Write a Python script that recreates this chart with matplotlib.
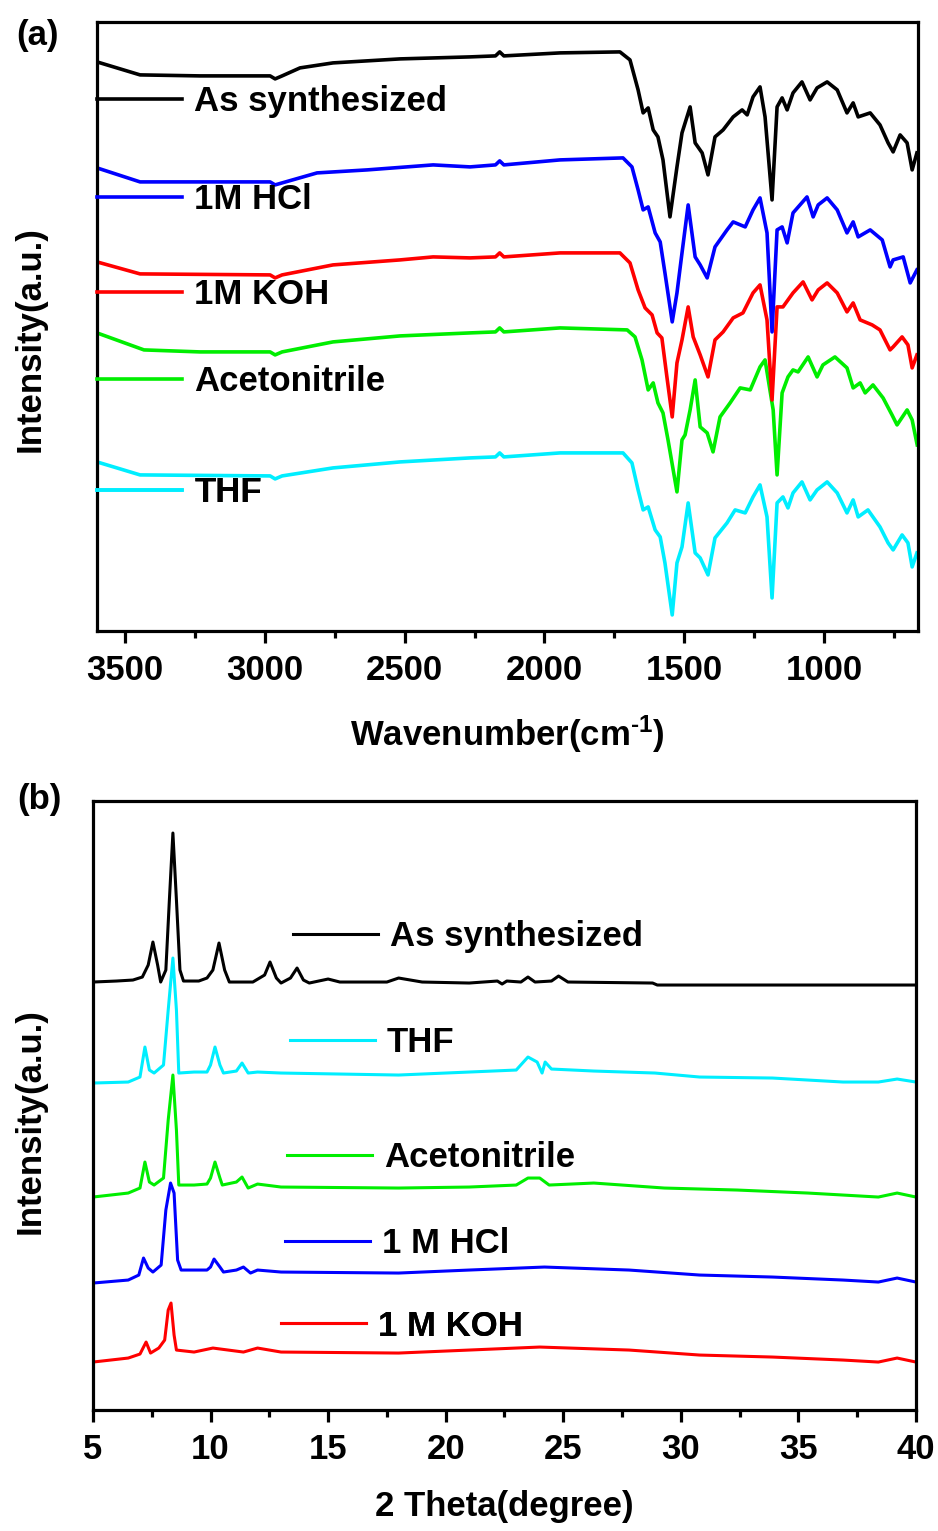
"""
FTIR (a) and PXRD (b) stacked spectra of the framework after the solvent /
acid / base soaking tests.
"""

import matplotlib
matplotlib.use('Agg')
import matplotlib.pyplot as plt
from matplotlib.ticker import MultipleLocator

plt.rcParams['font.family'] = ['Liberation Sans', 'DejaVu Sans']
plt.rcParams['font.weight'] = 'bold'
plt.rcParams['mathtext.fontset'] = 'custom'
plt.rcParams['mathtext.rm'] = 'Liberation Sans:bold'
plt.rcParams['mathtext.bf'] = 'Liberation Sans:bold'
plt.rcParams['mathtext.default'] = 'bf'

FS = 25

# ---------------- (a) FTIR, wavenumber (cm-1) vs offset intensity (a.u.)
ir_as_wn = [3600, 3446, 3232, 2981, 2963, 2938, 2874, 2756, 2516, 2266,
            2175, 2160, 2145, 1944, 1730, 1694, 1665, 1647, 1629, 1611,
            1594, 1576, 1551, 1526, 1508, 1479, 1461, 1436, 1415, 1390,
            1361, 1325, 1293, 1275, 1254, 1229, 1211, 1186, 1168, 1150,
            1132, 1111, 1079, 1050, 1025, 989, 953, 918, 896, 878,
            835, 800, 771, 753, 728, 703, 685, 668]
ir_as = [569, 556, 555, 555, 552, 555, 563, 568, 572, 574,
         575, 579, 575, 578, 579, 571, 541, 518, 523, 501,
         494, 471, 414, 464, 498, 524, 488, 478, 456, 494,
         501, 514, 521, 516, 534, 544, 514, 431, 524, 533,
         521, 538, 549, 531, 543, 549, 541, 518, 528, 514,
         518, 506, 488, 479, 496, 488, 461, 478]

ir_hcl_wn = [3600, 3446, 2981, 2963, 2938, 2813, 2634, 2398, 2266, 2175,
             2160, 2145, 1944, 1719, 1687, 1665, 1647, 1629, 1604, 1586,
             1569, 1543, 1526, 1508, 1486, 1461, 1443, 1418, 1390, 1347,
             1325, 1282, 1254, 1229, 1204, 1186, 1168, 1150, 1132, 1111,
             1061, 1039, 1021, 989, 953, 918, 896, 878, 835, 792,
             764, 753, 717, 692, 668]
ir_hcl = [463, 449, 449, 446, 448, 458, 461, 466, 464, 466,
          470, 466, 471, 473, 464, 441, 421, 424, 398, 389,
          358, 309, 338, 378, 426, 374, 366, 353, 384, 401,
          409, 404, 421, 433, 398, 299, 401, 404, 388, 418,
          434, 414, 426, 433, 421, 398, 409, 394, 401, 391,
          364, 371, 374, 348, 361]

ir_koh_wn = [3600, 3446, 2981, 2963, 2938, 2756, 2516, 2398, 2266, 2175,
             2160, 2145, 1944, 1730, 1694, 1665, 1640, 1615, 1597, 1580,
             1562, 1543, 1526, 1508, 1486, 1468, 1443, 1415, 1390, 1361,
             1325, 1290, 1254, 1229, 1204, 1186, 1168, 1147, 1111, 1075,
             1043, 1021, 989, 953, 918, 896, 871, 828, 800, 764,
             753, 721, 700, 685, 668]
ir_koh = [369, 357, 356, 353, 356, 366, 371, 374, 373, 374,
          378, 374, 378, 378, 368, 341, 323, 316, 298, 293,
          254, 214, 268, 291, 324, 294, 276, 254, 291, 299,
          313, 318, 338, 346, 311, 231, 324, 324, 338, 349,
          331, 341, 348, 338, 319, 328, 311, 306, 301, 281,
          284, 294, 286, 263, 276]

ir_acn_wn = [3600, 3432, 3232, 2981, 2963, 2938, 2756, 2516, 2266, 2175,
             2160, 2145, 1944, 1704, 1676, 1651, 1629, 1611, 1594, 1576,
             1558, 1526, 1508, 1497, 1479, 1461, 1443, 1418, 1397, 1372,
             1336, 1300, 1264, 1229, 1211, 1182, 1168, 1150, 1129, 1111,
             1093, 1057, 1025, 1004, 961, 918, 896, 871, 853, 825,
             789, 757, 739, 703, 685, 667]
ir_acn = [298, 281, 279, 279, 276, 279, 289, 295, 298, 299,
          303, 299, 303, 301, 294, 271, 241, 248, 228, 218,
          191, 139, 191, 196, 221, 251, 204, 198, 179, 214,
          228, 243, 241, 264, 271, 221, 156, 238, 254, 261,
          259, 274, 254, 266, 274, 263, 243, 248, 238, 246,
          233, 216, 206, 221, 211, 186]

ir_thf_wn = [3600, 3446, 2981, 2963, 2938, 2756, 2516, 2266, 2175, 2160,
             2145, 1944, 1719, 1687, 1665, 1647, 1629, 1604, 1586, 1569,
             1543, 1526, 1508, 1486, 1461, 1443, 1415, 1390, 1347, 1318,
             1282, 1254, 1229, 1204, 1186, 1168, 1147, 1129, 1111, 1079,
             1050, 1025, 989, 953, 918, 896, 878, 843, 800, 771,
             753, 721, 700, 685, 668]
ir_thf = [169, 156, 155, 152, 155, 163, 169, 173, 174, 178,
          174, 178, 178, 168, 141, 121, 124, 101, 94, 68,
          16, 68, 84, 128, 78, 73, 56, 93, 108, 121,
          118, 134, 146, 114, 33, 128, 134, 123, 138, 149,
          131, 141, 149, 138, 118, 131, 114, 121, 104, 88,
          81, 96, 88, 64, 78]

# ---------------- (b) PXRD, 2 theta (degree) vs offset intensity (a.u.)
xrd_as_tt = [5.0, 6.0, 6.7, 7.1, 7.35, 7.55, 7.75, 7.88, 8.1, 8.25,
             8.4, 8.55, 8.7, 8.85, 9.5, 9.85, 10.1, 10.36, 10.6, 10.8,
             11.8, 12.3, 12.53, 12.8, 13.0, 13.4, 13.68, 13.95, 14.2, 15.0,
             15.5, 17.5, 18.0, 19.0, 21.0, 22.2, 22.4, 22.6, 23.2, 23.5,
             23.8, 24.5, 24.8, 25.2, 28.8, 29.0, 40.0]
xrd_as = [428, 429, 430, 433, 445, 468, 445, 428, 440, 510,
          577, 510, 440, 429, 429, 432, 440, 467, 440, 428,
          428, 435, 448, 432, 427, 432, 442, 430, 427, 431,
          428, 428, 432, 428, 427, 429, 426, 429, 428, 433,
          428, 429, 434, 428, 427, 425, 425]

xrd_thf_tt = [5.0, 6.5, 7.0, 7.21, 7.4, 7.6, 8.0, 8.2, 8.4, 8.55,
              8.65, 9.3, 9.85, 10.0, 10.19, 10.4, 10.55, 11.1, 11.34, 11.6,
              12.0, 13.0, 18.0, 21.0, 23.0, 23.5, 23.89, 24.1, 24.23, 24.5,
              26.3, 28.9, 30.8, 33.9, 36.9, 38.4, 39.2, 40.0]
xrd_thf = [327, 328, 333, 363, 340, 337, 345, 400, 452, 400,
           337, 338, 338, 345, 363, 345, 337, 339, 347, 337,
           338, 337, 335, 338, 340, 353, 348, 337, 348, 341,
           339, 337, 333, 332, 328, 328, 331, 328]

xrd_acn_tt = [5.0, 6.5, 7.0, 7.21, 7.4, 7.6, 8.0, 8.2, 8.4, 8.55,
              8.65, 9.3, 9.85, 10.0, 10.19, 10.4, 10.5, 11.1, 11.34, 11.6,
              12.0, 13.0, 18.0, 21.0, 23.0, 23.5, 24.0, 24.4, 26.3, 29.3,
              32.4, 35.4, 36.9, 38.4, 39.2, 40.0]
xrd_acn = [213, 217, 222, 248, 228, 225, 232, 290, 335, 280,
           225, 225, 226, 232, 248, 232, 225, 228, 233, 222,
           226, 223, 222, 223, 225, 232, 232, 225, 227, 222,
           220, 217, 215, 213, 217, 213]

xrd_hcl_tt = [5.0, 6.5, 6.95, 7.15, 7.35, 7.55, 7.9, 8.1, 8.3, 8.45,
              8.6, 8.75, 9.3, 9.85, 10.0, 10.15, 10.4, 10.55, 11.1, 11.4,
              11.7, 12.0, 13.0, 18.0, 21.0, 24.2, 27.8, 30.8, 33.9, 36.9,
              38.4, 39.2, 40.0]
xrd_hcl = [127, 130, 135, 152, 142, 138, 145, 200, 227, 217,
           150, 140, 140, 140, 143, 151, 143, 138, 140, 143,
           137, 140, 138, 137, 140, 143, 140, 135, 133, 130,
           128, 132, 128]

xrd_koh_tt = [5.0, 6.5, 7.0, 7.26, 7.45, 7.8, 8.05, 8.2, 8.32, 8.45,
              8.55, 9.3, 10.1, 11.4, 12.0, 13.0, 18.0, 21.0, 24.0, 27.8,
              30.8, 33.9, 36.9, 38.4, 39.2, 40.0]
xrd_koh = [48, 52, 56, 68, 57, 62, 70, 100, 107, 75,
           60, 58, 62, 58, 62, 58, 57, 60, 63, 60,
           55, 53, 50, 48, 52, 48]

C_BLACK, C_BLUE, C_RED, C_GREEN, C_CYAN = '#000000', '#0000FF', '#FF0000', '#00EE00', '#00EEFF'

fig = plt.figure(figsize=(9.38, 15.31), dpi=100)
ax_a = fig.add_axes([0.1034, 0.5879, 0.8753, 0.3978])
ax_b = fig.add_axes([0.0991, 0.0790, 0.8774, 0.3978])

# draw order chosen so the overlaps look like the original
ir_lines = {}
for key, wn, val, col in [('THF', ir_thf_wn, ir_thf, C_CYAN),
                          ('Acetonitrile', ir_acn_wn, ir_acn, C_GREEN),
                          ('1M KOH', ir_koh_wn, ir_koh, C_RED),
                          ('1M HCl', ir_hcl_wn, ir_hcl, C_BLUE),
                          ('As synthesized', ir_as_wn, ir_as, C_BLACK)]:
    ir_lines[key], = ax_a.plot(wn, val, color=col, lw=2.6, solid_joinstyle='round')

xrd_lines = {}
for key, tt, val, col in [('As synthesized', xrd_as_tt, xrd_as, C_BLACK),
                          ('THF', xrd_thf_tt, xrd_thf, C_CYAN),
                          ('Acetonitrile', xrd_acn_tt, xrd_acn, C_GREEN),
                          ('1 M HCl', xrd_hcl_tt, xrd_hcl, C_BLUE),
                          ('1 M KOH', xrd_koh_tt, xrd_koh, C_RED)]:
    xrd_lines[key], = ax_b.plot(tt, val, color=col, lw=2.2, solid_joinstyle='round')

ax_a.set_xlim(3600, 664)
ax_a.set_ylim(0, 609)
ax_a.xaxis.set_major_locator(MultipleLocator(500))
ax_a.xaxis.set_minor_locator(MultipleLocator(250))

ax_b.set_xlim(5, 40)
ax_b.set_ylim(0, 609)
ax_b.xaxis.set_major_locator(MultipleLocator(5))
ax_b.xaxis.set_minor_locator(MultipleLocator(2.5))

for ax in (ax_a, ax_b):
    for sp in ax.spines.values():
        sp.set_linewidth(2.3)
    ax.tick_params(axis='x', which='major', direction='out', length=8.5, width=2.3,
                   pad=8, labelsize=FS)
    ax.tick_params(axis='x', which='minor', direction='out', length=5, width=2.3)
    ax.tick_params(axis='y', which='both', left=False, labelleft=False)
    ax.set_ylabel('Intensity(a.u.)', fontsize=FS, fontweight='bold')

ax_a.yaxis.set_label_coords(-0.061, 0.48)
ax_b.yaxis.set_label_coords(-0.056, 0.475)

# plain hyphen in the superscript, like the original
ax_a.set_xlabel(r'Wavenumber(cm$^{\text{-}1}$)', fontsize=FS, fontweight='bold')
ax_a.xaxis.set_label_coords(0.5, -0.135)
ax_b.set_xlabel('2 Theta(degree)', fontsize=FS, fontweight='bold')
ax_b.xaxis.set_label_coords(0.5, -0.131)

# in-plot labels: one key + name per curve, each sitting under its trace
ir_keys = ['As synthesized', '1M HCl', '1M KOH', 'Acetonitrile', 'THF']
ir_key_x = [0.0, 0.0, 0.0, 0.0, 0.0]
ir_key_y = [0.869, 0.708, 0.552, 0.409, 0.227]

xrd_keys = ['As synthesized', 'THF', 'Acetonitrile', '1 M HCl', '1 M KOH']
xrd_key_x = [0.243, 0.239, 0.236, 0.233, 0.228]
xrd_key_y = [0.777, 0.603, 0.415, 0.274, 0.138]

for ax, keys, lines, kx, ky in [(ax_a, ir_keys, ir_lines, ir_key_x, ir_key_y),
                                (ax_b, xrd_keys, xrd_lines, xrd_key_x, xrd_key_y)]:
    for name, x0, y0 in zip(keys, kx, ky):
        leg = ax.legend([lines[name]], [name], loc='center left',
                        bbox_to_anchor=(x0, y0), frameon=False, fontsize=FS,
                        handlelength=2.45, handletextpad=0.35,
                        borderpad=0, borderaxespad=0)
        ax.add_artist(leg)

fig.text(37 / 938, 1 - 35 / 1531, '(a)', fontsize=FS, fontweight='bold',
         ha='center', va='center')
fig.text(39 / 938, 1 - 800 / 1531, '(b)', fontsize=FS, fontweight='bold',
         ha='center', va='center')

fig.savefig('out.png', dpi=100)
plt.close(fig)
